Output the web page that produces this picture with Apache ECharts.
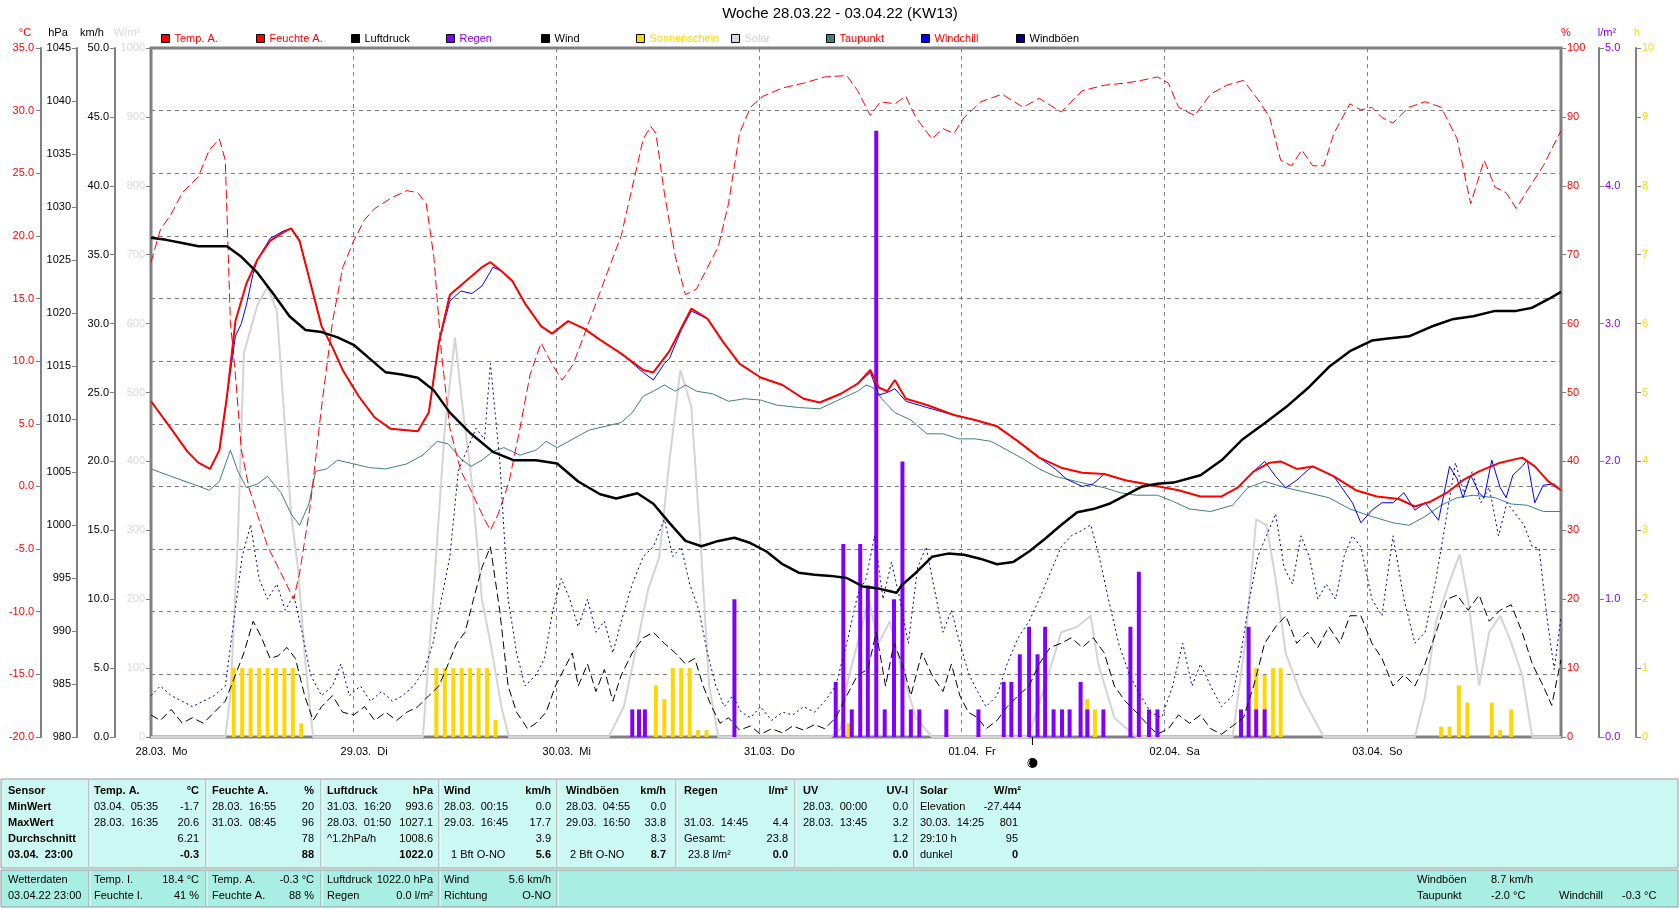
<!DOCTYPE html>
<html><head><meta charset="utf-8">
<script src="https://cdn.jsdelivr.net/npm/echarts@6/dist/echarts.min.js"></script>
<style>html,body{margin:0;padding:0;background:#fff}#c{width:1680px;height:909px}</style>
</head><body><div id="c"></div>
<script>
// ---- Data (x = hours since 28.03.22 00:00) ----
const dayLabels = ['28.03.  Mo','29.03.  Di','30.03.  Mi','31.03.  Do','01.04.  Fr','02.04.  Sa','03.04.  So'];
const newMoonHour = 104.4;

const tempA = [[0,6.8],[2.4,4.6],[4.3,2.8],[5.6,1.9],[7.0,1.4],[8.1,2.9],[9.0,7.2],[10.0,13.2],[11.3,16.2],[12.6,18.1],[14.1,19.6],[15.7,20.3],[16.6,20.6],[17.6,19.6],[18.9,16.2],[20.2,12.8],[21.5,11.1],[22.7,9.3],[24.6,7.2],[26.5,5.5],[28.4,4.6],[31.6,4.4],[32.9,5.9],[34.1,11.5],[35.4,15.3],[37.3,16.4],[39.2,17.5],[40.2,17.9],[41.5,17.2],[42.8,16.4],[44.3,14.6],[46.2,12.8],[47.5,12.2],[49.4,13.2],[51.3,12.6],[53.2,11.7],[55.7,10.6],[58.3,9.3],[59.5,9.1],[61.4,10.8],[64.0,14.2],[65.9,13.4],[67.8,11.5],[69.7,9.8],[72.2,8.7],[74.8,8.1],[77.3,7.0],[79.2,6.7],[81.7,7.4],[83.7,8.2],[85.2,9.3],[86.2,7.9],[87.2,7.6],[88.1,8.5],[89.4,7.0],[91.9,6.5],[95.1,5.7],[97.6,5.3],[100.2,4.8],[102.7,3.6],[105.2,2.3],[107.8,1.5],[110.3,1.1],[112.9,1.0],[115.4,0.5],[118.6,0.1],[121.7,-0.3],[124.3,-0.8],[126.8,-0.8],[128.7,-0.1],[130.6,1.2],[132.5,1.9],[133.8,2.0],[135.7,1.4],[137.6,1.6],[140.1,0.8],[142.7,-0.3],[145.2,-0.8],[147.8,-1.0],[149.7,-1.6],[151.6,-1.2],[153.5,-0.5],[155.4,0.5],[157.3,1.2],[159.8,1.9],[162.4,2.3],[163.9,1.6],[165.5,0.4],[167,-0.3]];

const windchill = [[0,6.8],[2.4,4.6],[4.3,2.8],[5.6,1.9],[7.0,1.4],[8.1,2.9],[9.0,7.2],[10.0,12.0],[10.7,13.0],[11.3,14.5],[12.1,17.0],[12.6,18.1],[14.1,19.8],[15.7,20.4],[16.6,20.6],[17.6,19.6],[18.9,16.2],[20.2,12.8],[21.5,11.1],[22.7,9.3],[24.6,7.2],[26.5,5.5],[28.4,4.6],[31.6,4.4],[32.9,5.9],[34.1,11.5],[35.4,14.8],[36.7,15.6],[38.0,15.4],[39.2,16.0],[40.5,17.5],[41.5,17.2],[42.8,16.4],[44.3,14.6],[46.2,12.8],[47.5,12.2],[49.4,13.2],[51.3,12.6],[53.2,11.7],[55.7,10.6],[58.3,9.1],[59.5,8.5],[60.8,9.8],[61.4,10.2],[62.8,12.5],[64.0,14.0],[65.9,13.4],[67.8,11.5],[69.7,9.8],[72.2,8.7],[74.8,8.1],[77.3,7.0],[79.2,6.7],[81.7,7.4],[83.7,8.2],[85.2,9.1],[86.2,7.3],[87.2,7.5],[88.1,7.8],[89.4,6.8],[91.9,6.3],[95.1,5.7],[97.6,5.3],[100.2,4.8],[102.7,3.6],[105.2,2.3],[107.1,1.4],[108.4,0.6],[110.3,0.0],[111.6,0.2],[112.9,1.0],[115.4,0.5],[118.6,0.1],[121.7,-0.3],[124.3,-0.8],[126.8,-0.8],[128.7,-0.1],[130.6,1.2],[131.9,2.0],[133.2,0.8],[134.4,-0.1],[135.7,0.5],[137.0,1.3],[137.6,1.6],[140.1,0.8],[142.3,-1.3],[143.3,-2.9],[144.6,-1.9],[145.8,-1.3],[147.1,-1.3],[148.4,-0.5],[149.7,-1.9],[150.9,-1.3],[152.5,-2.7],[153.8,1.6],[154.7,0.6],[155.4,-0.9],[156.3,0.9],[157.3,-0.5],[157.9,-0.9],[158.8,2.1],[159.8,-0.1],[160.5,-0.9],[161.3,0.9],[162.4,1.6],[163.0,2.1],[163.9,-1.3],[164.9,0.1],[166.2,0.2],[167,-0.3]];

const dewPoint = [[0,1.4],[2.4,0.8],[4.9,0.2],[6.9,-0.3],[8.1,0.4],[9.4,2.9],[10.3,1.2],[11.3,-0.1],[12.6,0.2],[13.8,0.8],[15.4,-0.5],[16.6,-2.2],[17.6,-3.1],[18.7,-1.4],[19.5,1.2],[20.8,1.4],[22.1,2.1],[24.0,1.8],[25.9,1.5],[27.8,1.4],[30.3,1.8],[32.2,2.5],[33.9,3.6],[35.2,3.4],[36.7,2.2],[37.9,1.6],[39.2,2.1],[40.5,2.8],[41.8,3.1],[43.7,2.5],[45.6,2.9],[46.8,3.6],[48.1,3.1],[50.0,3.8],[51.9,4.5],[53.8,4.8],[55.7,5.1],[57.0,5.9],[58.3,7.2],[59.5,7.6],[60.8,8.1],[62.1,7.6],[63.3,8.1],[64.6,7.6],[66.5,7.4],[68.4,6.8],[70.3,7.0],[72.2,6.9],[74.1,6.5],[76.7,6.3],[79.2,6.2],[81.1,6.8],[83.7,7.6],[84.7,8.1],[85.5,7.9],[86.8,6.8],[88.1,5.9],[90.0,5.3],[91.9,4.2],[93.8,4.2],[95.7,3.8],[97.6,3.8],[99.5,3.6],[101.4,2.9],[103.3,2.2],[105.2,1.4],[107.1,0.8],[109.0,0.5],[110.9,0.2],[112.9,-0.1],[114.8,-0.5],[116.7,-0.7],[119.2,-0.7],[121.1,-1.2],[123.0,-1.8],[125.5,-2.0],[128.1,-1.5],[129.9,-0.1],[131.9,0.4],[134.4,-0.1],[137.0,-0.5],[139.5,-0.9],[142.0,-1.8],[144.6,-2.4],[147.1,-2.9],[149.0,-3.1],[150.9,-2.4],[152.8,-1.5],[154.7,-0.9],[156.6,-0.7],[159.2,-0.9],[161.1,-1.4],[163.0,-1.5],[164.9,-2.0],[167,-2.0]];

const humidity = [[0,68.9],[1.1,73.6],[2.4,75.9],[3.7,79.0],[5.6,81.3],[6.9,85.2],[8.1,86.8],[8.8,83.7],[9.4,60.3],[10.0,52.6],[10.7,41.7],[11.6,36.2],[12.6,32.3],[13.8,27.7],[15.4,23.8],[16.9,20.0],[17.6,23.8],[18.9,33.9],[20.2,47.9],[21.5,60.3],[22.7,68.1],[24.0,72.0],[25.3,75.1],[26.5,76.7],[28.4,78.2],[30.3,79.3],[31.6,79.0],[32.6,77.4],[33.5,69.7],[34.4,55.7],[35.4,44.8],[36.7,38.6],[38.0,35.5],[39.5,31.6],[40.2,30.0],[41.1,32.3],[42.4,37.0],[43.7,44.8],[44.9,52.6],[46.2,57.2],[47.5,54.1],[48.7,51.8],[50.0,54.1],[51.9,60.3],[53.8,66.6],[55.7,72.8],[57.0,79.8],[58.3,86.8],[59.2,88.6],[59.8,87.6],[60.8,79.0],[62.1,69.7],[63.3,64.2],[64.6,65.0],[65.9,68.1],[67.2,71.2],[68.4,77.4],[69.7,87.6],[71.0,91.4],[72.5,93.0],[74.8,94.2],[77.3,94.9],[79.8,95.8],[82.4,96.0],[83.7,93.8],[85.2,90.2],[86.4,92.2],[88.1,91.9],[89.4,93.0],[90.6,89.9],[92.5,86.8],[93.8,88.3],[95.1,87.6],[96.3,89.9],[98.3,92.2],[100.8,93.3],[103.3,91.4],[105.2,92.7],[107.8,90.7],[110.3,93.8],[112.9,94.6],[115.4,94.9],[117.3,95.3],[119.2,95.8],[120.5,94.9],[121.7,91.4],[123.6,90.2],[125.5,93.3],[127.4,94.6],[129.4,95.3],[131.3,92.2],[132.5,89.9],[133.8,83.7],[135.1,82.9],[136.3,85.2],[137.6,82.9],[138.9,82.9],[140.1,87.6],[142.0,91.9],[143.3,91.0],[144.6,91.4],[145.8,89.9],[147.1,89.1],[149.0,91.4],[150.9,92.2],[152.8,91.4],[154.7,86.8],[156.3,77.4],[157.9,83.7],[159.2,79.8],[160.5,79.0],[161.7,76.7],[163.0,79.3],[164.9,82.9],[167,88]];

const pressure = [[0,1027.1],[1.8,1026.9],[3.7,1026.6],[5.6,1026.3],[7.5,1026.3],[9.0,1026.3],[10.7,1025.3],[12.6,1023.8],[14.5,1021.8],[16.4,1019.7],[18.3,1018.4],[20.2,1018.2],[22.1,1017.7],[24.0,1017.0],[25.9,1015.7],[27.8,1014.4],[29.7,1014.2],[31.6,1013.9],[33.5,1012.7],[35.4,1010.6],[37.9,1008.6],[40.5,1006.9],[43.0,1006.1],[45.6,1006.1],[48.1,1005.8],[50.6,1004.1],[53.2,1002.9],[55.1,1002.5],[57.6,1003.0],[59.5,1002.0],[61.4,1000.2],[63.3,998.5],[65.2,998.0],[67.2,998.5],[69.1,998.8],[71.0,998.3],[72.9,997.5],[74.8,996.3],[76.7,995.5],[78.6,995.3],[80.5,995.2],[82.4,995.0],[84.3,994.2],[86.2,994.0],[88.3,993.6],[88.9,994.3],[90.6,995.5],[92.5,997.0],[94.4,997.3],[96.3,997.2],[98.3,996.8],[100.2,996.3],[102.1,996.5],[104.0,997.5],[105.9,998.7],[107.8,1000.0],[109.7,1001.2],[111.6,1001.5],[113.5,1002.0],[115.4,1002.8],[117.3,1003.6],[119.2,1003.9],[121.1,1004.0],[124.3,1004.7],[126.8,1006.1],[129.3,1008.1],[131.9,1009.6],[134.4,1011.1],[137.0,1012.9],[139.5,1014.9],[142.0,1016.4],[144.6,1017.4],[146.5,1017.6],[149.0,1017.8],[151.6,1018.7],[154.1,1019.4],[156.6,1019.7],[159.2,1020.2],[161.7,1020.2],[163.6,1020.5],[165.5,1021.3],[167,1022.0]];

const wind = [[0,1.6],[1.1,1.2],[2.4,2.0],[3.7,1.0],[4.9,1.4],[6.2,1.0],[7.5,1.8],[8.8,2.6],[10.0,4.5],[11.0,6.1],[12.1,8.4],[13.1,7.2],[14.1,5.7],[15.1,5.9],[16.1,6.5],[17.1,5.7],[18.2,3.0],[19.2,1.2],[20.2,2.2],[21.5,3.0],[22.7,1.8],[24.0,1.6],[25.3,2.2],[26.5,1.2],[27.8,1.8],[29.1,1.2],[30.3,1.8],[31.6,2.2],[32.9,3.0],[34.1,3.7],[35.2,5.3],[36.2,6.8],[37.2,7.6],[38.2,10.0],[39.2,12.3],[40.2,13.8],[41.3,9.2],[42.3,3.7],[43.3,1.8],[44.6,0.6],[45.6,1.0],[46.8,1.8],[47.9,3.7],[48.9,4.9],[49.9,6.1],[50.6,3.7],[51.7,5.3],[52.7,3.3],[53.7,4.9],[54.7,2.6],[55.7,4.5],[57.0,6.1],[58.3,7.2],[59.5,7.6],[60.8,6.8],[62.1,6.1],[63.3,5.3],[64.4,5.7],[65.4,3.7],[66.4,2.2],[67.4,1.0],[68.4,1.4],[69.7,0.5],[71.0,0.8],[72.2,0.2],[73.5,0.6],[74.8,0.3],[76.0,0.8],[77.3,0.5],[78.6,0.9],[79.8,0.6],[81.1,1.4],[82.4,3.0],[83.7,4.5],[84.9,4.9],[85.9,7.6],[87.0,3.7],[88.0,6.8],[89.0,5.3],[90.0,3.0],[91.3,6.1],[92.5,4.5],[93.8,3.3],[94.8,5.3],[95.8,3.0],[96.8,1.8],[97.9,1.4],[98.9,0.6],[100.2,1.2],[101.4,2.2],[102.7,3.0],[104.0,3.7],[105.2,5.3],[106.5,6.5],[107.8,6.8],[109.0,7.2],[110.3,6.5],[111.6,7.2],[112.9,6.1],[114.1,3.7],[115.4,2.6],[116.7,1.8],[117.9,1.0],[119.2,0.2],[120.5,0.6],[121.7,1.6],[123.0,1.0],[124.3,1.6],[125.5,0.6],[126.8,0.2],[128.1,0.8],[129.4,1.4],[130.6,3.7],[131.9,6.8],[133.2,8.0],[134.4,8.8],[135.7,6.8],[137.0,7.6],[138.2,6.5],[139.5,8.0],[140.8,6.8],[142.0,8.8],[143.3,8.8],[144.6,6.8],[145.8,5.7],[147.1,3.7],[148.4,4.5],[149.7,3.7],[150.9,5.3],[152.2,7.6],[153.5,10.0],[154.7,10.3],[156.0,9.2],[157.3,10.3],[158.5,8.4],[159.8,9.2],[161.1,9.6],[162.4,7.6],[163.6,5.3],[164.9,3.7],[165.9,2.3],[167,5.6]];

const gusts = [[0,3.0],[1.1,3.7],[2.4,3.0],[3.7,2.6],[4.9,2.2],[6.2,2.6],[7.5,3.0],[8.8,3.7],[9.8,8.4],[10.8,13.1],[11.8,15.4],[12.8,11.5],[13.8,10.0],[14.9,11.1],[15.9,9.2],[16.9,10.3],[17.9,7.6],[18.9,4.5],[20.2,3.0],[21.5,3.7],[22.5,5.3],[23.5,3.0],[24.8,3.7],[26.0,2.6],[27.3,3.3],[28.6,2.6],[29.8,3.0],[31.1,3.7],[32.4,4.9],[33.4,6.8],[34.4,10.0],[35.4,13.1],[36.4,19.3],[37.4,20.8],[38.5,22.4],[39.5,21.6],[40.2,27.1],[41.3,20.1],[42.3,10.0],[43.3,6.1],[44.3,3.7],[45.6,4.5],[46.6,5.7],[47.6,9.2],[48.6,11.5],[49.6,10.0],[50.6,8.0],[51.7,10.0],[52.7,7.6],[53.7,8.4],[54.7,6.1],[55.7,8.4],[57.0,11.1],[58.3,13.1],[59.5,13.8],[60.8,15.8],[61.8,13.1],[62.8,13.8],[63.8,11.1],[64.9,9.2],[65.9,6.1],[66.9,3.7],[67.9,2.2],[68.9,3.0],[69.9,1.8],[71.0,1.4],[72.2,2.2],[73.5,1.2],[74.8,1.8],[76.0,1.6],[77.3,2.2],[78.6,1.8],[79.8,2.6],[81.1,3.7],[82.4,6.8],[83.7,10.3],[84.7,11.5],[85.7,14.6],[86.7,10.0],[87.7,12.7],[88.7,10.0],[89.7,6.8],[90.8,12.3],[91.8,13.8],[92.8,10.7],[93.8,7.6],[94.8,9.2],[95.8,6.8],[96.9,4.5],[97.9,3.3],[98.9,2.2],[100.2,3.0],[101.4,5.3],[102.7,7.2],[104.0,8.4],[105.2,10.0],[106.5,11.9],[107.8,13.8],[109.0,14.6],[110.3,15.0],[111.3,15.4],[112.3,13.1],[113.4,10.0],[114.6,6.8],[115.9,4.5],[117.2,3.0],[118.4,1.8],[119.7,1.4],[121.0,3.7],[122.2,6.8],[123.3,3.7],[124.3,5.3],[125.5,3.7],[126.8,2.2],[128.1,3.0],[129.1,6.1],[130.1,10.0],[131.1,13.1],[132.1,14.6],[133.2,16.2],[134.2,12.3],[135.2,11.1],[136.2,14.6],[137.2,13.1],[138.2,10.0],[139.2,11.1],[140.3,10.0],[141.3,13.1],[142.3,14.6],[143.3,13.8],[144.6,10.0],[145.8,8.8],[147.1,14.6],[148.4,10.0],[149.7,6.8],[150.9,7.6],[152.2,11.5],[153.5,16.2],[154.5,19.9],[155.5,17.7],[156.5,19.3],[157.5,17.0],[158.5,18.1],[159.6,14.6],[160.6,17.0],[161.6,16.2],[162.6,15.4],[163.6,13.8],[164.4,13.7],[165.4,8.4],[166.2,4.9],[167,8.7]];

const solar = [[0,0],[8.8,0],[9.4,59],[10.3,292],[11.0,557],[12.6,627],[13.8,653],[14.9,619],[15.7,479],[16.6,323],[17.4,246],[18.3,106],[19.2,0],[32.2,0],[33.5,215],[34.8,448],[36.0,580],[36.9,479],[38.0,370],[39.2,199],[40.2,137],[41.5,44],[42.4,0],[54.2,0],[56.0,44],[57.6,137],[58.9,215],[60.2,261],[61.4,401],[62.7,533],[64.0,479],[65.2,261],[66.1,75],[67.2,0],[80.5,0],[81.7,12],[82.4,75],[83.7,137],[85.0,199],[86.2,137],[87.5,168],[88.7,106],[90.6,28],[92.5,0],[103.9,0],[105.9,75],[107.8,152],[109.7,160],[111.3,176],[112.2,106],[114.1,28],[116.7,0],[128.1,0],[129.6,137],[130.9,316],[132.1,308],[133.2,230],[134.4,121],[136.3,59],[138.9,0],[149.7,0],[150.9,59],[152.2,168],[153.7,222],[155.0,265],[156.0,199],[157.3,75],[158.5,152],[159.8,176],[161.1,137],[162.4,90],[163.6,0],[167,0]];

const sunshine = [[9.8,1],[10.8,1],[11.8,1],[12.8,1],[13.8,1],[14.8,1],[15.8,1],[16.8,1],[17.8,0.2],[33.8,1],[34.8,1],[35.8,1],[36.8,1],[37.8,1],[38.8,1],[39.8,1],[40.8,0.25],[59.8,0.75],[60.8,0.55],[61.8,1],[62.8,1],[63.8,1],[64.8,0.1],[65.8,0.1],[82.6,0.2],[110.9,0.55],[111.8,0.4],[130.9,1],[131.9,0.9],[132.9,1],[133.8,1],[152.8,0.15],[153.8,0.15],[154.9,0.75],[155.9,0.5],[158.8,0.5],[159.8,0.1],[161.1,0.4]];

const rain = [[57.0,0.2],[57.8,0.2],[58.5,0.2],[69.1,1.0],[81.1,0.4],[82.0,1.4],[83.0,0.2],[84.0,1.4],[84.9,1.1],[85.9,4.4],[86.9,0.2],[88.0,1.0],[89.0,2.0],[90.0,0.2],[91.0,0.2],[94.2,0.2],[98.0,0.2],[101.0,0.4],[101.9,0.4],[102.9,0.6],[104.0,0.8],[105.0,0.6],[105.9,0.8],[106.9,0.2],[107.9,0.2],[108.8,0.2],[110.1,0.4],[110.9,0.2],[112.8,0.2],[116.0,0.8],[117.0,1.2],[118.2,0.2],[119.2,0.2],[129.1,0.2],[130.0,0.8],[130.9,0.2],[131.9,0.2]];

// legend entries: name, box colour, text colour
const legendNames  = ['Temp. A.','Feuchte A.','Luftdruck','Regen','Wind','Sonnenschein','Solar','Taupunkt','Windchill','Windböen'];
const legendBoxes  = ['#ff0000','#ff0000','#000000','#8000ff','#000000','#ffd700','#d8d8d8','#408080','#0000ff','#000080'];
const legendTexts  = ['#ff0000','#ff0000','#000000','#8000ff','#000000','#ffd700','#d0d0d0','#ff0000','#ff0000','#000000'];

// statistics table (text, x, row, align, bold)
const table1 = [
 ['Sensor',8,0,'left',1],['MinWert',8,1,'left',1],['MaxWert',8,2,'left',1],['Durchschnitt',8,3,'left',1],['03.04.  23:00',8,4,'left',1],
 ['Temp. A.',94,0,'left',1],['°C',199,0,'right',1],['03.04.  05:35',94,1,'left',0],['-1.7',199,1,'right',0],['28.03.  16:35',94,2,'left',0],['20.6',199,2,'right',0],['6.21',199,3,'right',0],['-0.3',199,4,'right',1],
 ['Feuchte A.',212,0,'left',1],['%',314,0,'right',1],['28.03.  16:55',212,1,'left',0],['20',314,1,'right',0],['31.03.  08:45',212,2,'left',0],['96',314,2,'right',0],['78',314,3,'right',0],['88',314,4,'right',1],
 ['Luftdruck',327,0,'left',1],['hPa',433,0,'right',1],['31.03.  16:20',327,1,'left',0],['993.6',433,1,'right',0],['28.03.  01:50',327,2,'left',0],['1027.1',433,2,'right',0],['^1.2hPa/h',327,3,'left',0],['1008.6',433,3,'right',0],['1022.0',433,4,'right',1],
 ['Wind',444,0,'left',1],['km/h',551,0,'right',1],['28.03.  00:15',444,1,'left',0],['0.0',551,1,'right',0],['29.03.  16:45',444,2,'left',0],['17.7',551,2,'right',0],['3.9',551,3,'right',0],['1 Bft O-NO',451,4,'left',0],['5.6',551,4,'right',1],
 ['Windböen',566,0,'left',1],['km/h',666,0,'right',1],['28.03.  04:55',566,1,'left',0],['0.0',666,1,'right',0],['29.03.  16:50',566,2,'left',0],['33.8',666,2,'right',0],['8.3',666,3,'right',0],['2 Bft O-NO',570,4,'left',0],['8.7',666,4,'right',1],
 ['Regen',684,0,'left',1],['l/m²',788,0,'right',1],['31.03.  14:45',684,2,'left',0],['4.4',788,2,'right',0],['Gesamt:',684,3,'left',0],['23.8',788,3,'right',0],['23.8 l/m²',688,4,'left',0],['0.0',788,4,'right',1],
 ['UV',803,0,'left',1],['UV-I',908,0,'right',1],['28.03.  00:00',803,1,'left',0],['0.0',908,1,'right',0],['28.03.  13:45',803,2,'left',0],['3.2',908,2,'right',0],['1.2',908,3,'right',0],['0.0',908,4,'right',1],
 ['Solar',920,0,'left',1],['W/m²',1021,0,'right',1],['Elevation',920,1,'left',0],['-27.444',1021,1,'right',0],['30.03.  14:25',920,2,'left',0],['801',1018,2,'right',0],['29:10 h',920,3,'left',0],['95',1018,3,'right',0],['dunkel',920,4,'left',0],['0',1018,4,'right',1]
];
const table2 = [
 ['Wetterdaten',8,0,'left'],['03.04.22 23:00',8,1,'left'],
 ['Temp. I.',94,0,'left'],['18.4 °C',199,0,'right'],['Feuchte I.',94,1,'left'],['41 %',199,1,'right'],
 ['Temp. A.',212,0,'left'],['-0.3 °C',314,0,'right'],['Feuchte A.',212,1,'left'],['88 %',314,1,'right'],
 ['Luftdruck',327,0,'left'],['1022.0 hPa',433,0,'right'],['Regen',327,1,'left'],['0.0 l/m²',433,1,'right'],
 ['Wind',444,0,'left'],['5.6 km/h',551,0,'right'],['Richtung',444,1,'left'],['O-NO',551,1,'right'],
 ['Windböen',1417,0,'left'],['8.7 km/h',1491,0,'left'],['Taupunkt',1417,1,'left'],['-2.0 °C',1491,1,'left'],['Windchill',1559,1,'left'],['-0.3 °C',1622,1,'left']
];

// ---- Chart ----
const FONT = 'Liberation Sans, Arial, sans-serif';
const GRID = {left:151, top:48, right:119, bottom:172};
const chart = echarts.init(document.getElementById('c'), null, {renderer:'canvas'});

function yAx(o){
  return Object.assign({
    type:'value', position:'left', offset:0,
    axisLine:{show:true, onZero:false, lineStyle:{color:'#808080', width:2}},
    axisTick:{show:true, length:5, lineStyle:{color:'#808080'}},
    splitLine:{show:false}
  }, o);
}
function lab(color, fmt, margin){
  return {fontSize:11, fontFamily:FONT, margin:margin||6, color, formatter:fmt};
}
const fixed1 = v=>v.toFixed(1), plain = v=>String(v);

const yAxes = [
  yAx({min:-20,max:35,interval:5,offset:110, axisLabel:lab('#ff0000',fixed1,7),
       splitLine:{show:true,lineStyle:{color:'#808080',type:[4,4],width:1}}}),
  yAx({min:980,max:1045,interval:5,offset:74, axisLabel:lab('#000',plain)}),
  yAx({min:0,max:50,interval:5,offset:36, axisLabel:lab('#000',fixed1)}),
  yAx({min:0,max:1000,interval:100,offset:0, axisLabel:lab('#d8d8d8',plain)}),
  yAx({min:0,max:100,interval:10,position:'right',offset:0, axisLabel:lab('#ff0000',plain)}),
  yAx({min:0,max:5,interval:1,position:'right',offset:38, axisLabel:lab('#8000ff',fixed1)}),
  yAx({min:0,max:10,interval:1,position:'right',offset:75, axisLabel:lab('#ffd700',plain)})
];

function line(name, data, yi, color, width, type, z){
  return {name, type:'line', data, yAxisIndex:yi, symbol:'none', z,
    lineStyle:{color, width, type:type||'solid'}, itemStyle:{color}, animation:false};
}

const series = [
  line('Solar', solar, 3, '#d4d4d4', 2, 'solid', 1),
  {name:'Sonnenschein', type:'bar', data:sunshine, yAxisIndex:6, barWidth:4, itemStyle:{color:'#ffd700'}, z:2, animation:false},
  {name:'Regen', type:'bar', data:rain, yAxisIndex:5, barWidth:4, barGap:'-100%', itemStyle:{color:'#8000ff'}, z:3, animation:false},
  line('Taupunkt', dewPoint, 0, '#408080', 1, 'solid', 4),
  line('Windböen', gusts, 2, '#0000a0', 1, [2,3], 4),
  line('Wind', wind, 2, '#000000', 1, [8,4], 5),
  line('Feuchte A.', humidity, 4, '#ff0000', 1, [9,4], 5),
  line('Windchill', windchill, 0, '#0000ff', 1, 'solid', 6),
  line('Temp. A.', tempA, 0, '#ff0000', 2, 'solid', 7),
  line('Luftdruck', pressure, 1, '#000000', 2.5, 'solid', 8)
];

const legends = legendNames.map((n,i)=>({
  left:161+95*i, top:33, padding:0, itemWidth:8, itemHeight:8, itemGap:0, icon:'rect', selectedMode:false,
  textStyle:{fontSize:11, fontFamily:FONT},
  data:[{name:n, itemStyle:{color:legendBoxes[i], borderColor:'#000', borderWidth:1}, textStyle:{color:legendTexts[i]}}]
}));

chart.setOption({
  animation:false,
  backgroundColor:'#ffffff',
  title:{text:'Woche 28.03.22 - 03.04.22 (KW13)', left:'center', top:6, padding:0,
         textStyle:{fontSize:15, fontWeight:'normal', color:'#000', fontFamily:FONT}},
  legend: legends,
  grid:{left:GRID.left, top:GRID.top, right:GRID.right, bottom:GRID.bottom, show:true, borderColor:'#808080', borderWidth:3, backgroundColor:'#fff'},
  xAxis:{type:'value', min:0, max:167, interval:24,
    axisLine:{show:false}, axisTick:{show:false},
    splitLine:{show:true, lineStyle:{color:'#808080', type:[4,4], width:1}},
    axisLabel:{fontSize:11, fontFamily:FONT, color:'#000', margin:9, showMaxLabel:false,
      formatter:v=> (v%24===0 && dayLabels[v/24]) ? '{s|}'+dayLabels[v/24] : '',
      rich:{s:{width:21}}}},
  yAxis: yAxes,
  series
});

// ---- Graphics: units, moon, table ----
const g = [];
function txt(text,x,y,color,align,bold,size){
  g.push({type:'text', x, y, silent:true, z:100,
    style:{text, fill:color||'#000', font:(bold?'bold ':'')+(size||11)+'px '+FONT, align:align||'left', verticalAlign:'middle', textAlign:align||'left', textVerticalAlign:'middle'}});
}
function ln(x1,y1,x2,y2,c,w){ g.push({type:'line', silent:true, z:90, shape:{x1,y1,x2,y2}, style:{stroke:c, lineWidth:w||1}}); }
function rect(x,y,w,h,fill,stroke){ g.push({type:'rect', silent:true, z:80, shape:{x,y,width:w,height:h}, style:{fill, stroke, lineWidth:1}}); }

// axis units
txt('°C',25,33,'#ff0000','center');
txt('hPa',58,33,'#000','center');
txt('km/h',92,33,'#000','center');
txt('W/m²',127,33,'#d8d8d8','center');
txt('%',1566,33,'#ff0000','center');
txt('l/m²',1607,33,'#8000ff','center');
txt('h',1637,33,'#ffd700','center');

// new moon marker at its time on the x axis
const mx = chart.convertToPixel({xAxisIndex:0}, newMoonHour);
const axisY = 909 - GRID.bottom;
ln(mx, axisY, mx, axisY+8, '#000', 1);
g.push({type:'circle', silent:true, z:95, shape:{cx:mx, cy:axisY+26, r:5}, style:{fill:'#000'}});
g.push({type:'arc', silent:true, z:96, shape:{cx:mx, cy:axisY+26, r:4, startAngle:Math.PI*0.7, endAngle:Math.PI*1.3}, style:{stroke:'#fff', lineWidth:1, fill:null}});

// table section 1
const S1 = {top:779, h:89}, S2 = {top:870, h:37};
rect(1, S1.top, 1677, S1.h, '#ccf8f4', '#9a9a9a');
[89,206,321,439,557,676,795,914].forEach(x=>{ ln(x,S1.top+1,x,S1.top+S1.h-1,'#9a9a9a',1); ln(x+1,S1.top+1,x+1,S1.top+S1.h-1,'#ffffff',1); });
const rows1 = [791,807,823,839,855];
table1.forEach(c=>txt(c[0], c[1], rows1[c[2]], '#000', c[3], c[4]));
// table section 2
rect(1, S2.top, 1677, S2.h, '#a8eee2', '#9a9a9a');
[89,206,321,439,557].forEach(x=>{ ln(x,S2.top+1,x,S2.top+S2.h-1,'#9a9a9a',1); ln(x+1,S2.top+1,x+1,S2.top+S2.h-1,'#ffffff',1); });
const rows2 = [880,896];
table2.forEach(c=>txt(c[0], c[1], rows2[c[2]], '#000', c[3], 0));

chart.setOption({graphic: g});
</script>
</body></html>
